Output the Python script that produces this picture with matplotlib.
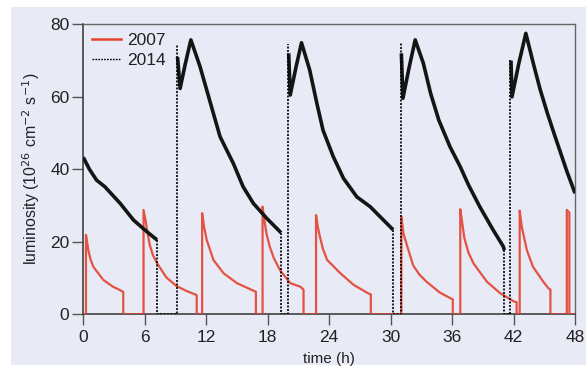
import numpy as np
import matplotlib
matplotlib.use("Agg")
import matplotlib.pyplot as plt
from matplotlib.patches import Rectangle
from matplotlib.lines import Line2D

plt.rcParams['font.family'] = ['Liberation Sans', 'DejaVu Sans']

# ---------------- data ----------------
# 2007 run: luminosity, zero between fills
t2007 = [0.0, 0.26, 0.26, 0.35, 0.49, 0.7, 0.98, 1.6, 1.95, 2.9, 3.5, 3.9, 3.9,
         5.88, 5.88, 6.1, 6.3, 6.5, 6.8, 7.2, 8.1, 9.1, 10.1, 11.07, 11.07,
         11.6, 11.6, 11.8, 12.05, 12.7, 13.7, 15.0, 16.85, 16.85,
         17.5, 17.5, 17.7, 17.9, 18.2, 18.6, 19.2, 20.2, 21.2, 21.5, 21.5,
         22.72, 22.72, 22.9, 23.1, 23.4, 23.8, 25.1, 26.4, 27.8, 28.07, 28.07,
         31.05, 31.05, 31.25, 31.6, 32.2, 32.8, 33.5, 34.8, 36.0, 36.07, 36.07,
         36.8, 36.8, 37.0, 37.2, 37.6, 38.1, 39.4, 40.7, 42.0, 42.3, 42.3,
         42.6, 42.6, 42.8, 43.3, 43.9, 44.9, 45.4, 45.6, 45.6,
         47.2, 47.2, 47.45, 47.45, 48.0]
lum2007 = [0.0, 0.0, 21.9, 20.3, 17.7, 15.2, 13.1, 10.8, 9.5, 7.6, 6.8, 6.2, 0.0,
           0.0, 28.8, 25.5, 22.0, 19.0, 16.3, 14.1, 10.2, 7.8, 6.4, 5.3, 0.0,
           0.0, 27.9, 24.0, 20.5, 15.0, 11.3, 8.6, 6.2, 0.0,
           0.0, 29.7, 25.5, 22.0, 18.7, 15.5, 12.2, 8.6, 7.6, 6.8, 0.0,
           0.0, 27.4, 24.0, 21.4, 18.0, 15.0, 11.3, 8.1, 5.8, 5.5, 0.0,
           0.0, 26.9, 22.3, 19.0, 13.5, 11.0, 9.0, 6.0, 4.2, 4.1, 0.0,
           0.0, 29.0, 25.0, 21.0, 17.0, 14.0, 9.0, 5.8, 3.6, 3.3, 0.0,
           0.0, 28.6, 24.2, 17.7, 13.1, 9.0, 7.2, 6.8, 0.0,
           0.0, 28.8, 28.0, 0.0, 0.0]

# 2014 run: one array pair per fill
fill14_1_t = [0.0, 0.6, 1.3, 2.1, 3.6, 4.9, 6.2, 7.2]
fill14_1_v = [43.3, 40.0, 37.0, 35.2, 30.6, 26.0, 22.8, 20.5]
fill14_2_t = [9.2, 9.45, 9.95, 10.5, 11.4, 12.7, 13.35, 14.65, 15.6, 16.6, 17.9, 19.2, 19.3]
fill14_2_v = [71.0, 62.3, 69.0, 75.7, 68.3, 55.4, 49.0, 41.6, 35.2, 30.6, 26.5, 22.8, 22.5]
fill14_3_t = [20.05, 20.2, 20.75, 21.3, 22.1, 22.8, 23.4, 24.4, 25.4, 26.7, 28.0, 29.3, 30.25]
fill14_3_v = [72.0, 60.5, 68.0, 74.9, 67.4, 58.2, 50.8, 43.5, 37.5, 32.4, 29.7, 26.0, 23.3]
fill14_4_t = [31.05, 31.2, 31.8, 32.4, 33.2, 33.9, 34.7, 35.8, 36.8, 37.6, 38.7, 40.0, 41.0, 41.1]
fill14_4_v = [72.0, 59.6, 68.0, 75.7, 69.2, 61.0, 53.6, 46.2, 40.7, 35.7, 29.7, 23.3, 18.7, 17.7]
fill14_5_t = [41.75, 41.85, 42.5, 43.2, 43.95, 44.6, 45.3, 46.0, 46.6, 47.2, 48.0]
fill14_5_v = [70.0, 60.0, 69.0, 77.5, 69.0, 62.0, 55.5, 49.5, 44.5, 39.5, 33.4]

# 2014 gaps between fills (dotted): dump time, refill time, refill level
gap_dump = [7.2, 19.3, 30.25, 41.1]
gap_refill = [9.15, 20.0, 31.0, 41.7]
gap_level = [74.7, 74.7, 75.2, 70.3]

xticks = [0, 6, 12, 18, 24, 30, 36, 42, 48]
yticks = [0, 20, 40, 60, 80]

# ---------------- figure ----------------
bg = '#e8eaf5'
red = '#e4412f'
fig = plt.figure(figsize=(5.86, 3.68), dpi=100, facecolor='white')
fig.patches.append(Rectangle((11 / 586, 3 / 368), 575 / 586, 358 / 368,
                             transform=fig.transFigure, facecolor=bg,
                             edgecolor='none', zorder=-10))
ax = fig.add_axes([83.3 / 586, 1 - 314.3 / 368, (575 - 83.3) / 586, (314.3 - 24.3) / 368])
ax.set_facecolor(bg)

ax.plot(t2007, lum2007, color=red, lw=1.6, alpha=0.9, zorder=3)

fills = [(fill14_1_t, fill14_1_v), (fill14_2_t, fill14_2_v), (fill14_3_t, fill14_3_v),
         (fill14_4_t, fill14_4_v), (fill14_5_t, fill14_5_v)]
for ft, fv in fills:
    ax.plot(ft, fv, color='#151515', lw=2.6, zorder=4, solid_capstyle='butt')

for i in range(len(gap_dump)):
    start_v = fills[i][1][-1]
    gx = [gap_dump[i], gap_dump[i], gap_refill[i], gap_refill[i]]
    gy = [start_v, 0, 0, gap_level[i]]
    ax.plot(gx, gy, color='black', lw=1.2, ls=(0, (1.2, 0.9)), zorder=5)

ax.set_xlim(0, 48)
ax.set_ylim(0, 80)
ax.set_xticks(xticks)
ax.set_yticks(yticks)
ax.tick_params(direction='out', length=8, width=1.0, color='#555555',
               labelsize=12.5, pad=2, labelcolor='#222222')
ax.tick_params(axis='x', pad=3)
for s in ['left', 'bottom']:
    ax.spines[s].set_color('#333333')
    ax.spines[s].set_linewidth(1.1)
for s in ['top', 'right']:
    ax.spines[s].set_color('#666666')
    ax.spines[s].set_linewidth(1.0)

ax.set_xlabel('time (h)', fontsize=11, labelpad=5, color='#222222')
ax.set_ylabel('luminosity (10$^{26}$ cm$^{-2}$ s$^{-1}$)', fontsize=11.5,
              labelpad=6, color='#222222')

handles = [Line2D([], [], color=red, lw=1.8),
           Line2D([], [], color='black', lw=1.0, ls=(0, (1.2, 0.9)))]
leg = ax.legend(handles, ['2007', '2014'], loc='upper left', frameon=False,
                fontsize=12.5, handlelength=1.7, handletextpad=0.35,
                labelspacing=0.3, borderaxespad=0.1, bbox_to_anchor=(0.0, 1.0))
for txt in leg.get_texts():
    txt.set_color('#222222')

fig.savefig('out.png', dpi=100, facecolor='white')
